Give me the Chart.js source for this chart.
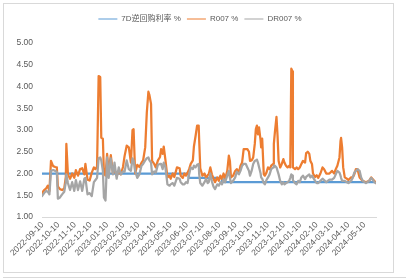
<!DOCTYPE html>
<html>
<head>
<meta charset="utf-8">
<script src="https://cdn.jsdelivr.net/npm/chart.js@4/dist/chart.umd.min.js"></script>
<style>
  body { margin: 0; background: #fff; width: 406px; height: 279px; overflow: hidden; }
  #frame { position: absolute; left: 3px; top: 3px; width: 391px; height: 270px; border: 1px solid #d9d9d9; box-sizing: border-box; }
  #next { position: absolute; left: 3px; top: 277px; width: 403px; border-top: 1px solid #d9d9d9; }
  #grafica { position: absolute; left: 0; top: 0; }
</style>
</head>
<body>
<div id="frame"></div>
<div id="next"></div>
<canvas id="grafica" width="406" height="279"></canvas>
<script>
// 日期 / R007 / DR007
const dates = [
  '2022-09-09','2022-09-13','2022-09-17','2022-09-20','2022-09-23','2022-09-26','2022-09-30',
  '2022-10-04','2022-10-07','2022-10-09','2022-10-13','2022-10-17','2022-10-21','2022-10-24','2022-10-25','2022-10-28',
  '2022-11-01','2022-11-05','2022-11-09','2022-11-12','2022-11-16','2022-11-20','2022-11-24','2022-11-28','2022-11-30',
  '2022-12-04','2022-12-08','2022-12-12','2022-12-16','2022-12-19','2022-12-22','2022-12-25','2022-12-28','2022-12-30',
  '2023-01-02','2023-01-04','2023-01-07','2023-01-10','2023-01-13','2023-01-17','2023-01-21','2023-01-24','2023-01-28',
  '2023-02-01','2023-02-05','2023-02-09','2023-02-12','2023-02-16','2023-02-20','2023-02-24','2023-02-27',
  '2023-03-01','2023-03-04','2023-03-08','2023-03-12','2023-03-16','2023-03-19','2023-03-23','2023-03-26','2023-03-29','2023-03-31',
  '2023-04-03','2023-04-05','2023-04-09','2023-04-12','2023-04-16','2023-04-20','2023-04-22','2023-04-25','2023-04-27','2023-04-30',
  '2023-05-04','2023-05-08','2023-05-10','2023-05-14','2023-05-17','2023-05-22','2023-05-27','2023-05-29',
  '2023-06-02','2023-06-05','2023-06-08','2023-06-11','2023-06-14','2023-06-17','2023-06-21','2023-06-23','2023-06-26','2023-06-29',
  '2023-07-02','2023-07-03','2023-07-05','2023-07-09','2023-07-13','2023-07-16','2023-07-19','2023-07-21','2023-07-24','2023-07-27','2023-07-30',
  '2023-08-02','2023-08-06','2023-08-09','2023-08-12','2023-08-15','2023-08-18','2023-08-21','2023-08-25','2023-08-28','2023-08-30',
  '2023-09-01','2023-09-05','2023-09-09','2023-09-12','2023-09-16','2023-09-19','2023-09-22','2023-09-25','2023-09-29',
  '2023-10-02','2023-10-05','2023-10-07','2023-10-10','2023-10-13','2023-10-16','2023-10-18','2023-10-20','2023-10-22','2023-10-24','2023-10-27','2023-10-28','2023-10-30',
  '2023-11-02','2023-11-04','2023-11-07','2023-11-10','2023-11-13','2023-11-16','2023-11-20','2023-11-21','2023-11-23','2023-11-26','2023-11-28','2023-11-30',
  '2023-12-03','2023-12-06','2023-12-09','2023-12-11','2023-12-14','2023-12-17','2023-12-20','2023-12-22','2023-12-24','2023-12-26','2023-12-27','2023-12-31',
  '2024-01-03','2024-01-06','2024-01-09','2024-01-12','2024-01-15','2024-01-19','2024-01-21','2024-01-24','2024-01-27','2024-01-29',
  '2024-02-01','2024-02-03','2024-02-07','2024-02-10','2024-02-13','2024-02-17','2024-02-21','2024-02-24','2024-02-28',
  '2024-03-05','2024-03-10','2024-03-14','2024-03-17','2024-03-20','2024-03-24','2024-03-26','2024-03-27','2024-03-29','2024-03-31',
  '2024-04-03','2024-04-07','2024-04-10','2024-04-15','2024-04-18','2024-04-21','2024-04-24','2024-04-27',
  '2024-05-01','2024-05-04','2024-05-07','2024-05-13','2024-05-19','2024-05-23','2024-05-26','2024-05-29','2024-06-01'
];
const r007 = [
  1.55,1.62,1.66,1.72,1.60,2.29,2.17,
  2.15,2.14,1.70,1.64,1.62,1.66,1.92,2.68,1.98,
  1.88,2.00,1.90,2.08,1.95,2.10,2.12,1.98,2.22,
  1.86,1.84,2.02,2.14,2.10,2.16,4.24,4.22,2.82,
  2.80,2.00,1.95,2.45,2.05,2.42,2.00,2.10,1.95,
  2.05,1.98,2.15,2.40,2.64,2.60,2.25,3.00,
  3.02,2.00,2.20,2.15,2.25,2.30,2.60,3.40,3.88,3.80,
  3.60,2.29,2.22,2.14,2.30,2.38,2.56,2.45,2.62,2.33,
  1.91,1.95,1.88,2.00,1.92,2.14,2.12,1.95,
  1.90,2.00,1.95,2.02,2.10,2.22,2.30,2.62,2.85,3.10,
  3.10,2.75,2.12,1.95,2.00,1.90,1.96,1.98,2.14,1.98,1.88,
  1.80,1.91,1.83,1.95,1.87,2.00,1.88,2.06,2.41,2.29,
  1.91,1.95,2.06,2.10,2.02,2.18,2.25,2.56,2.56,
  2.56,2.50,2.29,2.30,2.37,2.68,3.02,3.10,2.90,3.06,2.76,2.60,2.80,
  1.98,1.95,2.02,2.14,2.10,2.18,2.22,2.68,2.95,3.30,2.87,2.29,
  2.14,2.22,2.33,2.25,2.18,2.14,2.18,2.14,4.41,4.35,2.14,2.10,
  2.14,2.10,2.14,2.22,2.29,2.25,2.47,2.50,2.45,2.29,
  2.22,2.00,1.92,1.96,1.90,2.00,2.14,2.10,2.00,
  2.00,2.06,2.00,2.10,2.18,2.37,2.75,2.82,2.60,2.14,
  1.91,1.88,1.85,1.91,1.91,1.98,2.10,2.10,
  1.91,1.87,1.83,1.80,1.83,1.91,1.87,1.83,1.78
];
const dr007 = [
  1.48,1.55,1.60,1.58,1.52,2.06,2.08,
  2.06,2.04,1.42,1.45,1.52,1.58,1.80,1.98,1.78,
  1.62,1.80,1.60,1.85,1.62,1.82,1.60,1.88,1.90,
  1.52,1.55,1.48,1.80,1.85,1.90,2.35,2.37,2.30,
  2.06,1.45,1.38,2.37,1.90,2.35,1.98,2.25,1.88,
  2.14,1.98,2.05,2.04,2.30,2.10,2.06,2.35,
  2.30,2.06,1.90,1.98,2.18,2.22,2.30,2.35,2.37,2.30,
  2.25,1.98,2.05,2.02,2.20,2.22,2.22,2.10,2.25,2.15,
  1.75,1.72,1.75,1.78,1.72,1.90,1.88,1.80,
  1.75,1.75,1.80,1.78,1.98,2.14,2.10,2.18,2.14,2.20,
  2.22,1.98,1.78,1.72,1.80,1.88,1.78,1.80,2.00,1.82,1.70,
  1.64,1.75,1.72,1.80,1.75,1.87,1.80,1.95,2.06,1.90,
  1.78,1.83,1.91,2.04,1.98,2.06,2.18,2.22,2.22,
  2.14,2.06,1.95,2.06,2.22,2.29,2.30,2.32,2.25,2.15,2.00,1.91,1.88,
  1.78,1.75,1.85,1.91,1.98,2.10,2.14,2.18,2.18,2.14,2.06,1.98,
  1.83,1.75,1.80,1.75,1.78,1.80,1.83,1.90,1.98,1.95,1.85,1.78,
  1.75,1.83,1.80,1.91,1.95,1.87,1.92,1.95,1.98,1.91,
  1.95,1.91,1.83,1.78,1.78,1.83,1.88,1.85,1.80,
  1.86,1.86,1.90,1.98,2.06,2.02,1.95,1.90,1.83,1.83,
  1.83,1.80,1.78,1.83,1.90,2.02,2.06,2.10,
  2.06,1.91,1.83,1.78,1.83,1.90,1.85,1.80,1.78
];
// 7天逆回购利率 (调整日)
const repoDates = ['2022-09-09', '2023-06-13', '2023-08-15', '2024-06-01'];
const repoRate = [2.0, 1.9, 1.8, 1.8];
const tickLabels = [
  '2022-09-10','2022-10-10','2022-11-10','2022-12-10','2023-01-10','2023-02-10','2023-03-10',
  '2023-04-10','2023-05-10','2023-06-10','2023-07-10','2023-08-10','2023-09-10','2023-10-10',
  '2023-11-10','2023-12-10','2024-01-10','2024-02-10','2024-03-10','2024-04-10','2024-05-10'
];

const dayNum = s => Date.parse(s) / 86400000;
const pts = (ds, vs) => ds.map((d, i) => ({ x: dayNum(d), y: vs[i] }));
const txt = '#595959';

Chart.defaults.font.family = "'Liberation Sans Narrow','Liberation Sans','Noto Sans CJK SC',sans-serif";
Chart.defaults.font.size = 8.5;
Chart.defaults.color = txt;

// extra room below the legend
const legendGap = {
  id: 'legendGap',
  beforeInit(chart) {
    const fit = chart.legend.fit;
    chart.legend.fit = function () {
      fit.bind(chart.legend)();
      this.height += 10;
    };
  }
};

const graph = document.getElementById('grafica');
const myChart = new Chart(graph, {
  type: 'line',
  data: {
    datasets: [
      { label: '7D逆回购利率 %', data: pts(repoDates, repoRate), borderColor: '#5B9BD5', backgroundColor: '#5B9BD5', stepped: true, order: 3 },
      { label: 'R007 %', data: pts(dates, r007), borderColor: '#ED7D31', backgroundColor: '#ED7D31', order: 2 },
      { label: 'DR007 %', data: pts(dates, dr007), borderColor: '#A5A5A5', backgroundColor: '#A5A5A5', order: 1 }
    ]
  },
  options: {
    responsive: false,
    animation: false,
    elements: {
      point: { radius: 0 },
      line: { borderWidth: 2.25, tension: 0, borderJoinStyle: 'round', borderCapStyle: 'round', fill: false }
    },
    layout: { padding: { left: 0, right: 6, top: 9, bottom: 0 } },
    plugins: {
      tooltip: { enabled: false },
      legend: {
        position: 'top',
        labels: {
          usePointStyle: true, pointStyle: 'line', pointStyleWidth: 19,
          padding: 6, color: txt, font: { size: 8 },
          sort: (a, b) => a.datasetIndex - b.datasetIndex
        }
      }
    },
    scales: {
      x: {
        type: 'linear',
        min: dayNum(dates[0]),
        max: dayNum(dates[dates.length - 1]),
        grid: { display: false, drawTicks: false },
        border: { display: true, color: '#d9d9d9', width: 1 },
        ticks: {
          autoSkip: false, maxRotation: 45, minRotation: 45, padding: 3, color: txt,
          callback: v => {
            const i = tickLabels.findIndex(t => dayNum(t) === v);
            return i >= 0 ? tickLabels[i] : '';
          }
        },
        afterBuildTicks: s => { s.ticks = tickLabels.map(t => ({ value: dayNum(t) })); },
        afterFit: s => { s.height = 62; }
      },
      y: {
        min: 1, max: 5,
        grid: { display: false, drawTicks: false },
        border: { display: false },
        ticks: { stepSize: 0.5, padding: 9, color: txt, callback: v => v.toFixed(2) },
        afterFit: s => { s.width = 42; }
      },
      // empty right-hand margin so the legend stays centred on the frame
      yPad: {
        position: 'right',
        grid: { display: false, drawTicks: false },
        border: { display: false },
        ticks: { display: false },
        afterFit: s => { s.width = 24; }
      }
    }
  },
  plugins: [legendGap]
});
</script>
</body>
</html>
